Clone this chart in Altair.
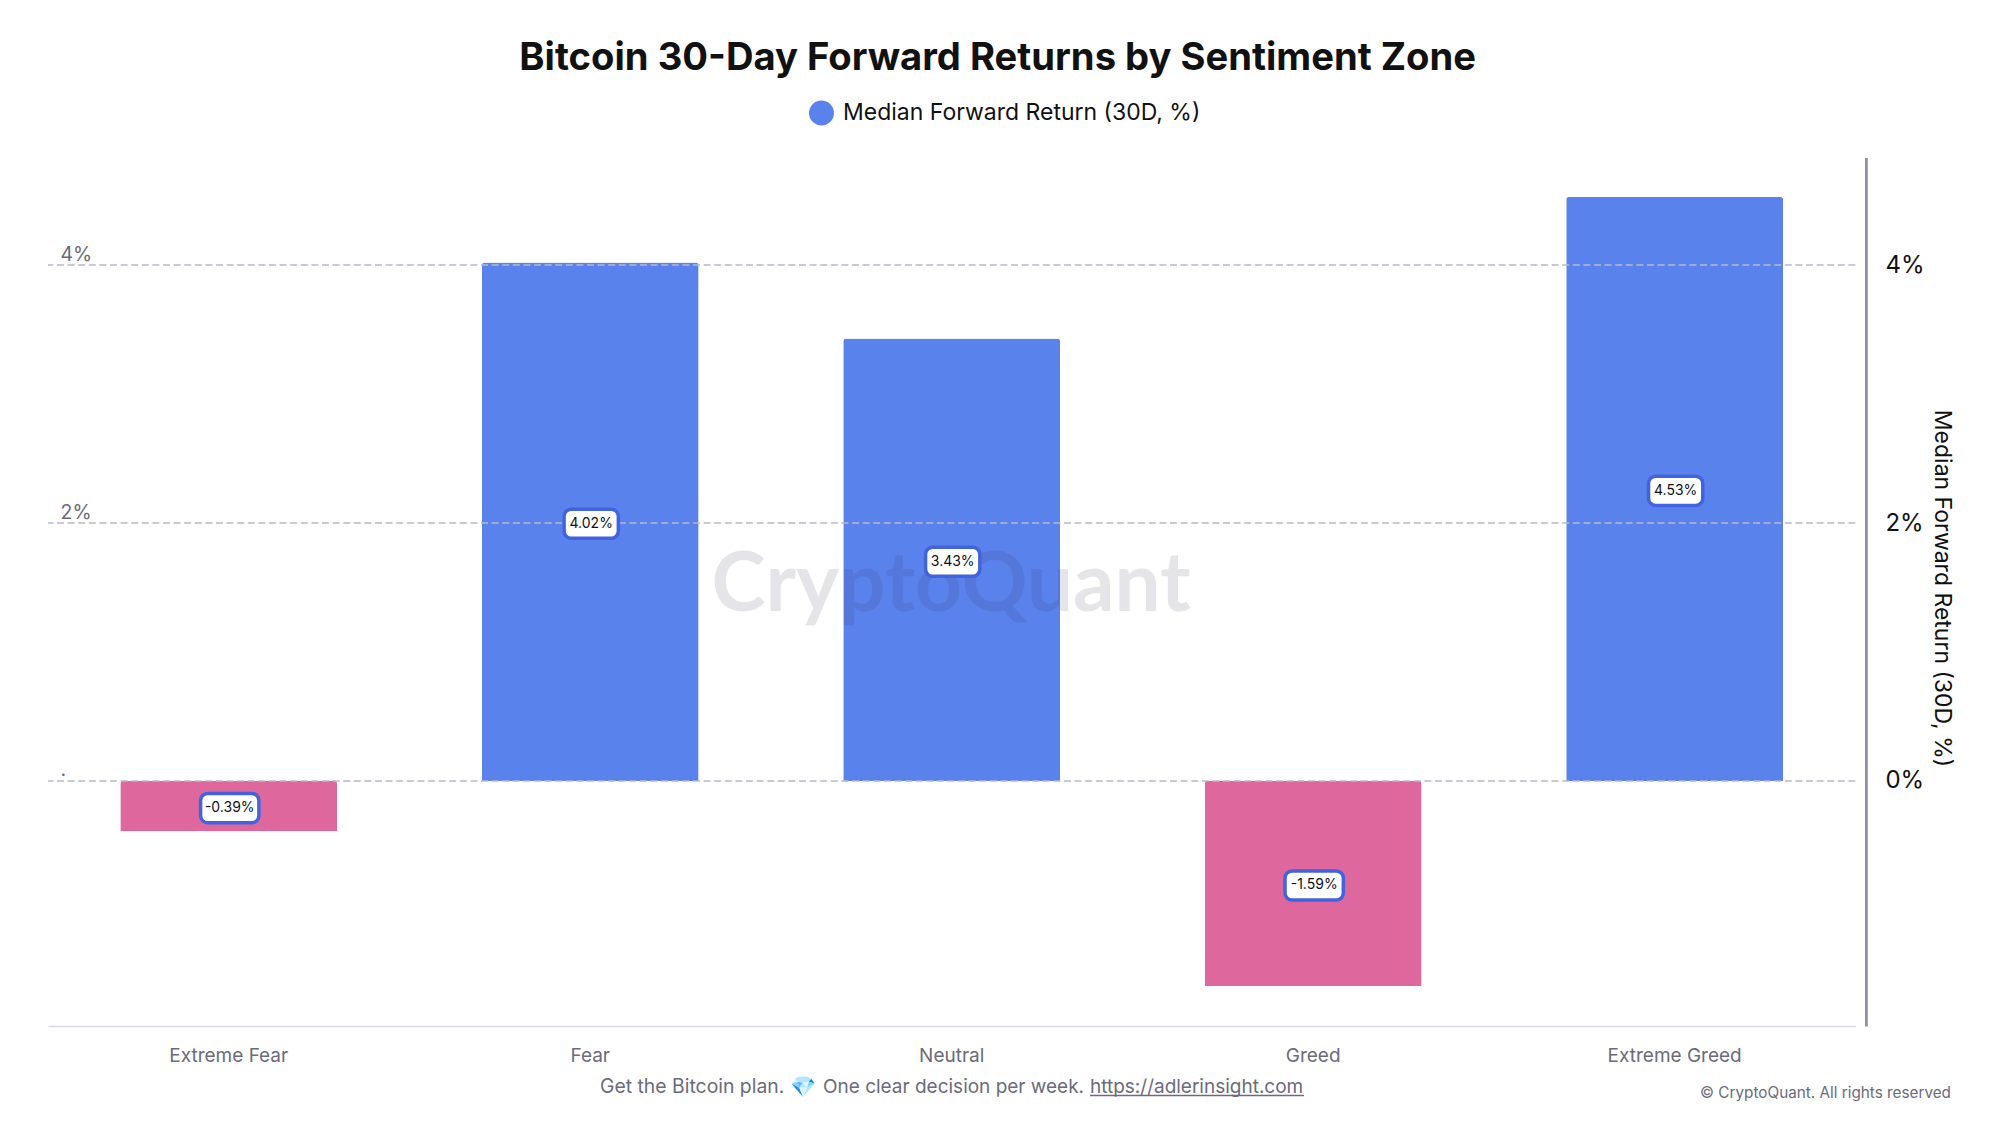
import altair as alt
import pandas as pd

categories = ["Extreme Fear", "Fear", "Neutral", "Greed", "Extreme Greed"]
values = [-0.39, 4.02, 3.43, -1.59, 4.53]
value_labels = ["-0.39%", "4.02%", "3.43%", "-1.59%", "4.53%"]
box_kind = ["neg", "pos", "pos", "neg", "pos"]
tick_values = [0, 2, 4]
left_labels = [".", "2%", "4%"]
series_name = "Median Forward Return (30D, %)"
title_text = "Bitcoin 30-Day Forward Returns by Sentiment Zone"

BLUE = "#5a82ec"
PINK = "#de679e"
GREY = "#6b6b7b"
FONT = "Inter"

df = pd.DataFrame({"zone": categories, "value": values, "label": value_labels,
                   "kind": box_kind, "series": series_name})
df["mid"] = df["value"] / 2
ticks = pd.DataFrame({"tick": tick_values, "left": left_labels})

x_scale = alt.Scale(domain=categories, paddingInner=0.4, paddingOuter=0.2)
y_scale = alt.Scale(domain=[-1.9, 4.834], nice=False, zero=False)

x_axis = alt.Axis(labelAngle=0, labelFontSize=19, labelColor=GREY, labelFont=FONT,
                  ticks=False, domainColor="#d9d9e1", domainWidth=1.5, labelPadding=21,
                  grid=False)
y_axis = alt.Axis(orient="right", values=tick_values, offset=10.5, grid=False, ticks=False,
                  domainColor="#8d8d9b", domainWidth=2.7, labelFontSize=24,
                  labelColor="#111111", labelFont=FONT, labelPadding=19,
                  labelExpr="datum.value + '%'", titleFontSize=23, titleFont=FONT,
                  titleFontWeight="normal", titleColor="#111111", titlePadding=5.5, titleY=430.5)


def X():
    return alt.X("zone:N", sort=categories, scale=x_scale, title=None, axis=x_axis)


def Y(field):
    return alt.Y(field, scale=y_scale, title=series_name, axis=y_axis)


def rbox(h, half=1.0, r=0.24):
    a = half - r
    b = h - r
    return (f"M{-a},{-h}H{a}A{r},{r} 0 0 1 {half},{-b}V{b}A{r},{r} 0 0 1 {a},{h}"
            f"H{-a}A{r},{r} 0 0 1 {-half},{b}V{-b}A{r},{r} 0 0 1 {-a},{-h}Z")


bars = alt.Chart(df).mark_bar(cornerRadiusEnd=3).encode(
    x=X(),
    y=Y("value:Q"),
    color=alt.condition(
        alt.datum.value < 0,
        alt.value(PINK),
        alt.Color("series:N", scale=alt.Scale(domain=[series_name], range=[BLUE]),
                  legend=alt.Legend(orient="none", legendX=761, legendY=-57, title=None,
                                    symbolType="circle", symbolSize=625, symbolStrokeWidth=0,
                                    labelFontSize=23, labelFont=FONT, labelColor="#111111",
                                    labelLimit=700, labelOffset=9)),
    ),
)

grid = alt.Chart(ticks).mark_rule(color="#b9b9c9", strokeWidth=1.5, strokeDash=[7, 3.6]).encode(
    y=Y("tick:Q")
)

left_text = alt.Chart(ticks).mark_text(align="left", baseline="alphabetic", fontSize=19.5, font=FONT,
                                       color=GREY, dy=-4.5).encode(
    x=alt.value(12.5),
    y=Y("tick:Q"),
    text="left:N",
)

watermark = alt.Chart(pd.DataFrame({"t": ["CryptoQuant"]})).mark_text(
    fontSize=81.8, font="Lato", fontWeight=700, color="#2e2e55", opacity=0.12,
    align="center", baseline="middle").encode(
    x=alt.value(903), y=alt.value(429), text="t:N")

boxes = alt.Chart(df).mark_point(filled=True, fill="white", stroke="#4263e0", strokeWidth=3.5,
                                 opacity=1, size=3400, yOffset=2, xOffset=1).encode(
    x=X(),
    y=Y("mid:Q"),
    shape=alt.Shape("kind:N", legend=None,
                    scale=alt.Scale(domain=["neg", "pos"],
                                    range=[rbox(0.5), rbox(0.5, 0.93)])),
)

box_text = alt.Chart(df).mark_text(fontSize=14, font=FONT, color="#111111", baseline="middle",
                                   align="center", yOffset=2, xOffset=1).encode(
    x=X(),
    y=Y("mid:Q"),
    text="label:N",
)

footer_kw = dict(fontSize=19, font=FONT, color=GREY, align="left", baseline="alphabetic")
foot1 = alt.Chart(pd.DataFrame({"t": ["Get the Bitcoin plan."]})).mark_text(
    **{**footer_kw, "fontSize": 19.4}).encode(
    x=alt.value(552), y=alt.value(935.5), text="t:N")
foot_gem = alt.Chart(pd.DataFrame({"t": ["💎"]})).mark_text(
    fontSize=21, font=FONT, color="#58b7f3", align="center", baseline="alphabetic").encode(
    x=alt.value(755), y=alt.value(936.5), text="t:N")
foot2 = alt.Chart(pd.DataFrame({"t": ["One clear decision per week."]})).mark_text(**footer_kw).encode(
    x=alt.value(775), y=alt.value(935.5), text="t:N")
foot3 = alt.Chart(pd.DataFrame({"t": ["https://adlerinsight.com"]})).mark_text(**footer_kw).encode(
    x=alt.value(1042), y=alt.value(935.5), text="t:N")
underline = alt.Chart(pd.DataFrame({"t": ["u"]})).mark_rule(color=GREY, strokeWidth=1.3).encode(
    x=alt.value(1042), x2=alt.value(1256), y=alt.value(938))
copyright_text = alt.Chart(pd.DataFrame({"t": ["© CryptoQuant. All rights reserved"]})).mark_text(
    fontSize=15.3, font=FONT, color=GREY, align="right", baseline="alphabetic").encode(
    x=alt.value(1903), y=alt.value(940.5), text="t:N")

chart = alt.layer(
    bars, grid, left_text, watermark, boxes, box_text,
    foot1, foot_gem, foot2, foot3, underline, copyright_text,
).properties(
    width=1807.4,
    height=868.5,
    padding={"left": 40, "top": 149.5, "right": 130, "bottom": 80},
    autosize=alt.AutoSizeParams(type="none"),
    title=alt.TitleParams(title_text, anchor="middle", frame="group", fontSize=38.2, font=FONT,
                          fontWeight=700, color="#111111", baseline="alphabetic", offset=24, dx=46, dy=32),
).configure_view(stroke=None)

chart.save("out.html", embed_options={"renderer": "svg", "actions": False})
